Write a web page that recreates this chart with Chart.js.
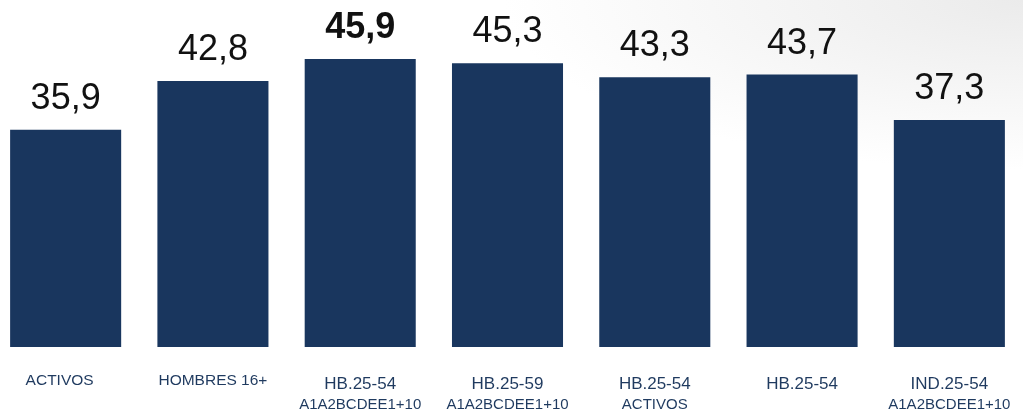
<!DOCTYPE html>
<html>
<head>
<meta charset="utf-8">
<script src="https://cdn.jsdelivr.net/npm/chart.js@4"></script>
<style>
  html, body { margin: 0; padding: 0; width: 1023px; height: 414px; overflow: hidden; }
  body { background: radial-gradient(ellipse 520px 170px at 100% 0, #ebebeb, #ffffff); }
  #wrap { position: absolute; left: -8px; top: 0; width: 1031px; height: 414px; }
</style>
</head>
<body>
<div id="wrap"><canvas id="chart"></canvas></div>
<script>
const categories = ["ACTIVOS", "HOMBRES 16+", "HB.25-54", "HB.25-59", "HB.25-54", "HB.25-54", "IND.25-54"];
const subLabels = ["", "", "A1A2BCDEE1+10", "A1A2BCDEE1+10", "ACTIVOS", "", "A1A2BCDEE1+10"];
const values = [35.9, 42.8, 45.9, 45.3, 43.3, 43.7, 37.3];
const highlight = [false, false, true, false, false, false, false];
// first two labels use the smaller font in the original
const bigLabel = [false, false, true, true, true, true, true];

const barColor = "#19365e";
const textColor = "#1f3a5f";

const labelsPlugin = {
  id: "labels",
  afterDatasetsDraw(chart) {
    const ctx = chart.ctx;
    const meta = chart.getDatasetMeta(0);
    ctx.save();
    ctx.textAlign = "center";
    meta.data.forEach((bar, i) => {
      // value above the bar
      ctx.fillStyle = "#111";
      ctx.textBaseline = "alphabetic";
      ctx.font = (highlight[i] ? "bold " : "") + "36px 'Liberation Sans', Arial, sans-serif";
      ctx.fillText(values[i].toFixed(1).replace(".", ","), bar.x, bar.y - 21);

      // category under the bar
      ctx.fillStyle = textColor;
      ctx.textBaseline = "middle";
      ctx.font = (bigLabel[i] ? "17px" : "15.5px") + " 'Liberation Sans', Arial, sans-serif";
      ctx.fillText(categories[i], bar.x - (i === 0 ? 6 : 0), bigLabel[i] ? 384 : 381);
      if (subLabels[i]) {
        ctx.font = "15px 'Liberation Sans', Arial, sans-serif";
        ctx.fillText(subLabels[i], bar.x, 405);
      }
    });
    ctx.restore();
  }
};

new Chart(document.getElementById("chart"), {
  type: "bar",
  data: {
    labels: categories,
    datasets: [{
      data: values,
      backgroundColor: barColor,
      categoryPercentage: 1,
      barPercentage: 0.754
    }]
  },
  options: {
    responsive: true,
    maintainAspectRatio: false,
    animation: false,
    layout: { padding: { top: 0, bottom: 67, left: 0, right: 0 } },
    plugins: { legend: { display: false }, tooltip: { enabled: false } },
    scales: {
      x: { display: false },
      y: { display: false, min: 5.3, max: 54.2 }
    }
  },
  plugins: [labelsPlugin]
});
</script>
</body>
</html>
